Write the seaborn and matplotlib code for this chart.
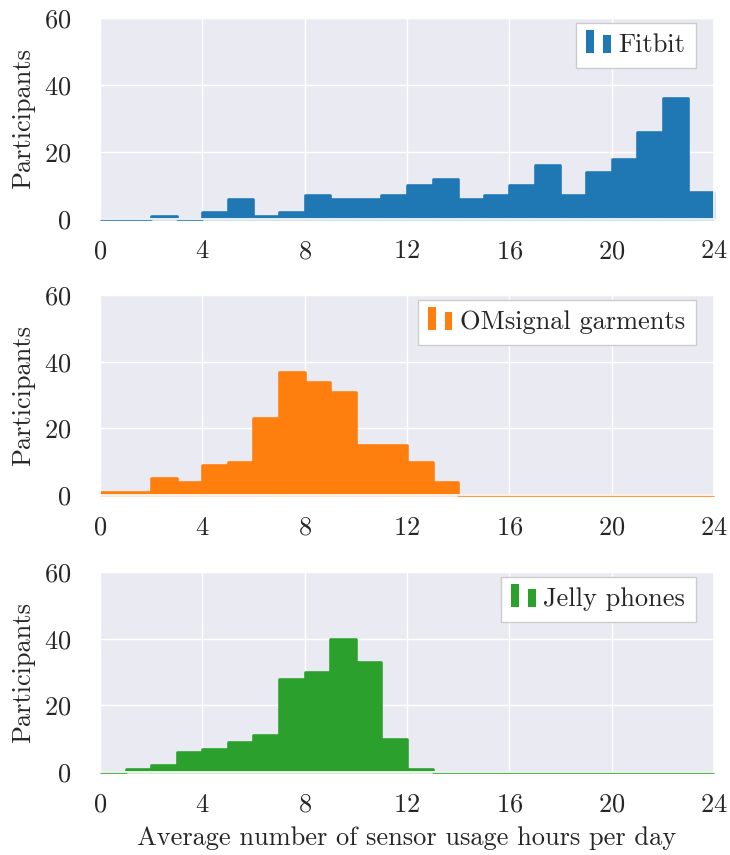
import numpy as np
import pandas as pd
import matplotlib
matplotlib.use("Agg")
import matplotlib.pyplot as plt
import seaborn as sns
from matplotlib.patches import Rectangle
from matplotlib.legend_handler import HandlerBase

# ---- data (counts per 1-hour bin, 0..24 h) ----
bin_edges = list(range(0, 25))
fitbit = [0, 0, 1, 0, 2, 6, 1, 2, 7, 6, 6, 7, 10, 12, 6, 7, 10, 16, 7, 14, 18, 26, 36, 8]
omsignal = [1, 1, 5, 4, 9, 10, 23, 37, 34, 31, 15, 15, 10, 4, 0, 0, 0, 0, 0, 0, 0, 0, 0, 0]
jelly = [0, 1, 2, 6, 7, 9, 11, 28, 30, 40, 33, 10, 1, 0, 0, 0, 0, 0, 0, 0, 0, 0, 0, 0]
series_names = ["Fitbit", "OMsignal garments", "Jelly phones"]
x_ticks = [0, 4, 8, 12, 16, 20, 24]
y_ticks = [0, 20, 40, 60]
x_label = "Average number of sensor usage hours per day"
y_label = "Participants"

sns.set_theme(style="darkgrid")
plt.rcParams["font.family"] = ["serif"]
plt.rcParams["font.serif"] = ["cmr10", "DejaVu Serif"]
plt.rcParams["mathtext.fontset"] = "cm"
plt.rcParams["axes.formatter.use_mathtext"] = True
plt.rcParams["axes.unicode_minus"] = False

FS = 19

colors = ["#1f77b4", "#ff7f0e", "#2ca02c"]


class TwoBarHandler(HandlerBase):
    def __init__(self, color):
        super().__init__()
        self.color = color

    def create_artists(self, legend, orig_handle, xdescent, ydescent,
                       width, height, fontsize, trans):
        h = height * 1.25
        y0 = -ydescent - height * 0.05
        w1 = width * 0.32
        r1 = Rectangle((-xdescent, y0), w1, h, facecolor=self.color,
                       edgecolor="none", transform=trans)
        r2 = Rectangle((-xdescent + width * 0.70, y0), w1, h * 0.78,
                       facecolor=self.color, edgecolor="none", transform=trans)
        return [r1, r2]


fig = plt.figure(figsize=(7.3, 8.55), dpi=100)
positions = [
    [0.137, 0.744, 0.841, 0.235],
    [0.137, 0.421, 0.841, 0.234],
    [0.137, 0.097, 0.841, 0.234],
]
all_counts = [fitbit, omsignal, jelly]
centers = [e + 0.5 for e in bin_edges[:-1]]

for i, (counts, name, col) in enumerate(zip(all_counts, series_names, colors)):
    ax = fig.add_axes(positions[i])
    df = pd.DataFrame({"hours": centers, "n": counts})
    sns.histplot(data=df, x="hours", weights="n", bins=bin_edges, ax=ax,
                 color=col, alpha=1, edgecolor=col, linewidth=1.0)
    # outline (makes empty bins visible as a line on the baseline)
    sns.histplot(data=df, x="hours", weights="n", bins=bin_edges, ax=ax,
                 element="step", fill=False, color=col, linewidth=1.8)
    for art in list(ax.lines) + list(ax.collections) + list(ax.patches):
        art.set_clip_on(False)
        art.set_alpha(1)
    for art in ax.collections:
        art.set_edgecolor(col)
        art.set_linewidth(1.8)
        art.set_capstyle("butt")
    for ln in ax.lines:
        ln.set_color(col)
        ln.set_linewidth(1.8)
        ln.set_solid_capstyle("butt")
    ax.set_xlim(0, 24)
    ax.set_ylim(0, 60)
    ax.set_xticks(x_ticks)
    ax.set_yticks(y_ticks)
    ax.tick_params(axis="x", labelsize=FS, pad=9)
    ax.tick_params(axis="y", labelsize=FS, pad=15)
    ax.set_ylabel(y_label, fontsize=FS, labelpad=6)
    if i == 2:
        ax.set_xlabel(x_label, fontsize=FS, labelpad=7)
    else:
        ax.set_xlabel("")
    proxy = Rectangle((0, 0), 1, 1, color=col)
    leg = ax.legend([proxy], [name], loc="upper right",
                    bbox_to_anchor=(0.97, 0.975), borderaxespad=0,
                    fontsize=FS, frameon=True, fancybox=False,
                    framealpha=1, facecolor="white", edgecolor="#cccccc",
                    handlelength=0.9, handletextpad=0.3,
                    borderpad=0.4,
                    handler_map={Rectangle: TwoBarHandler(col)})
    leg.get_frame().set_linewidth(1.0)

fig.savefig("out.png", dpi=100)
